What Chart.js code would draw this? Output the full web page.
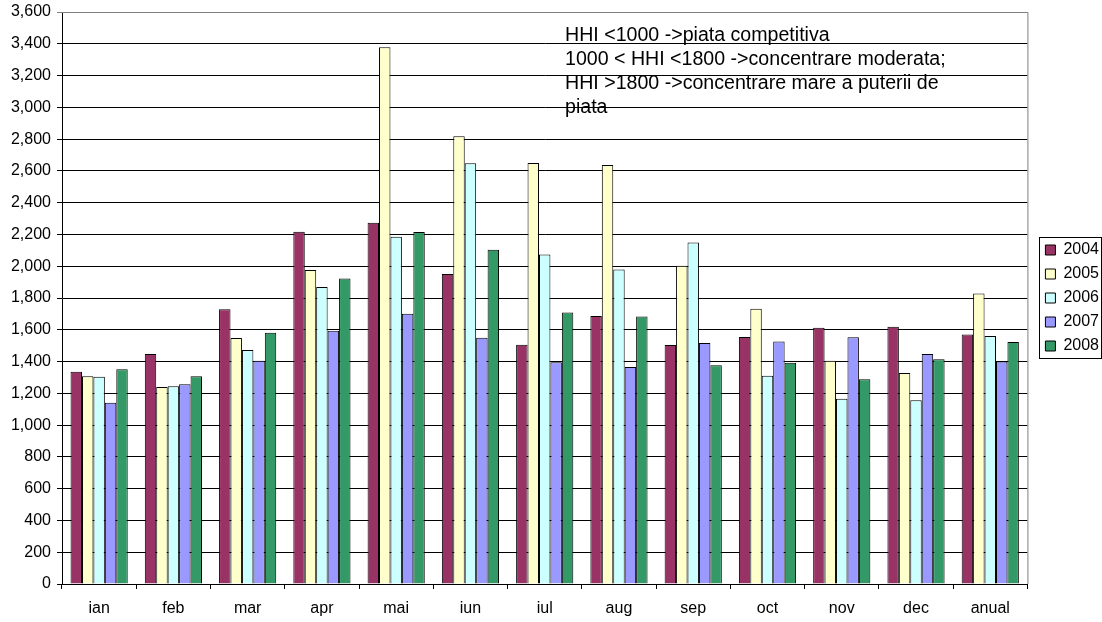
<!DOCTYPE html>
<html>
<head>
<meta charset="utf-8">
<script src="https://cdn.jsdelivr.net/npm/chart.js@4"></script>
<style>
    body { margin: 0; background: #fff; }
    #wrap { width: 1102px; height: 622px; }
</style>
</head>
<body>
<div id="wrap"><canvas id="hhi"></canvas></div>
<script>
const luni = ["ian", "feb", "mar", "apr", "mai", "iun", "iul", "aug", "sep", "oct", "nov", "dec", "anual"];
const ani = ["2004", "2005", "2006", "2007", "2008"];

const v2004 = [1336, 1447, 1729, 2217, 2274, 1951, 1506, 1687, 1504, 1554, 1613, 1619, 1571];
const v2005 = [1307, 1240, 1548, 1976, 3378, 2818, 2650, 2637, 2003, 1733, 1405, 1328, 1829];
const v2006 = [1305, 1244, 1473, 1869, 2186, 2648, 2073, 1980, 2150, 1311, 1166, 1156, 1561];
const v2007 = [1141, 1257, 1405, 1594, 1701, 1550, 1395, 1366, 1517, 1527, 1553, 1447, 1401];
const v2008 = [1351, 1307, 1582, 1922, 2215, 2104, 1708, 1683, 1376, 1393, 1288, 1414, 1523];

const culori = ["#993366", "#FFFFCC", "#CCFFFF", "#9999FF", "#339966"];

const nota = [
    "HHI <1000 ->piata competitiva",
    "1000 < HHI <1800 ->concentrare moderata;",
    "HHI >1800 ->concentrare mare a puterii de",
    "piata"
];

const font = "'Liberation Sans', Arial, sans-serif";

// chenar gri sus si dreapta, ca in Excel
const chenar = {
    id: "chenar",
    beforeDatasetsDraw(chart) {
        const a = chart.chartArea;
        const ctx = chart.ctx;
        ctx.save();
        ctx.strokeStyle = "#808080";
        ctx.lineWidth = 1;
        ctx.beginPath();
        ctx.moveTo(a.left, a.top + 0.5);
        ctx.lineTo(a.right + 0.5, a.top + 0.5);
        ctx.lineTo(a.right + 0.5, a.bottom);
        ctx.stroke();
        ctx.restore();
    },
    afterDraw(chart) {
        const ctx = chart.ctx;
        ctx.save();
        // textul cu pragurile HHI
        ctx.fillStyle = "#000";
        ctx.font = "19.6px " + font;
        ctx.textBaseline = "alphabetic";
        nota.forEach((rand, i) => {
            ctx.fillText(rand, 565, 41 + i * 24);
        });
        // cadrul legendei
        const boxes = chart.legend.legendHitBoxes;
        if (boxes && boxes.length) {
            const ultim = boxes[boxes.length - 1];
            const sus = Math.round(boxes[0].top - 5);
            const jos = Math.round(ultim.top + ultim.height + 4);
            const st = Math.round(Math.min(...boxes.map(b => b.left)) - 6);
            ctx.strokeStyle = "#000";
            ctx.lineWidth = 1;
            ctx.strokeRect(st + 0.5, sus + 0.5, chart.width - st - 1, jos - sus);
        }
        ctx.restore();
    }
};

const ctx = document.getElementById("hhi").getContext("2d");
const grafic = new Chart(ctx, {
    type: "bar",
    data: {
        labels: luni,
        datasets: [
            { label: ani[0], data: v2004 },
            { label: ani[1], data: v2005 },
            { label: ani[2], data: v2006 },
            { label: ani[3], data: v2007 },
            { label: ani[4], data: v2008 }
        ].map((d, i) => ({
            ...d,
            backgroundColor: culori[i],
            borderColor: "#000",
            borderWidth: 1,
            borderSkipped: "bottom",
            barPercentage: 1,
            categoryPercentage: 0.77
        }))
    },
    options: {
        responsive: true,
        maintainAspectRatio: false,
        animation: false,
        layout: { padding: { top: 12, right: -7, left: 0, bottom: 0 } },
        plugins: {
            tooltip: { enabled: false },
            legend: {
                position: "right",
                fullSize: false,
                labels: {
                    color: "#000",
                    font: { family: font, size: 16 },
                    boxWidth: 10,
                    boxHeight: 10,
                    padding: 8
                }
            }
        },
        scales: {
            x: {
                grid: {
                    offset: true,
                    drawOnChartArea: false,
                    color: "#000",
                    tickLength: 5
                },
                border: { color: "#000" },
                ticks: {
                    color: "#000",
                    font: { family: font, size: 16 },
                    padding: 10
                },
                afterFit(scale) {
                    scale.height = 38;
                    scale.paddingLeft = 0;
                    scale.paddingRight = 0;
                }
            },
            y: {
                min: 0,
                max: 3600,
                ticks: {
                    stepSize: 200,
                    color: "#000",
                    font: { family: font, size: 16 },
                    padding: 6
                },
                grid: {
                    color: c => c.tick && c.tick.value === 3600 ? "#808080" : "#000",
                    tickLength: 5
                },
                border: { color: "#000" },
                afterFit(scale) {
                    scale.width = 62;
                    scale.paddingTop = 0;
                    scale.paddingBottom = 0;
                }
            },
            // spatiu gol intre grafic si legenda
            gol: {
                type: "linear",
                position: "right",
                display: true,
                grid: { display: false },
                border: { display: false },
                ticks: { display: false },
                afterFit(scale) { scale.width = 10; }
            }
        }
    },
    plugins: [chenar]
});
</script>
</body>
</html>
